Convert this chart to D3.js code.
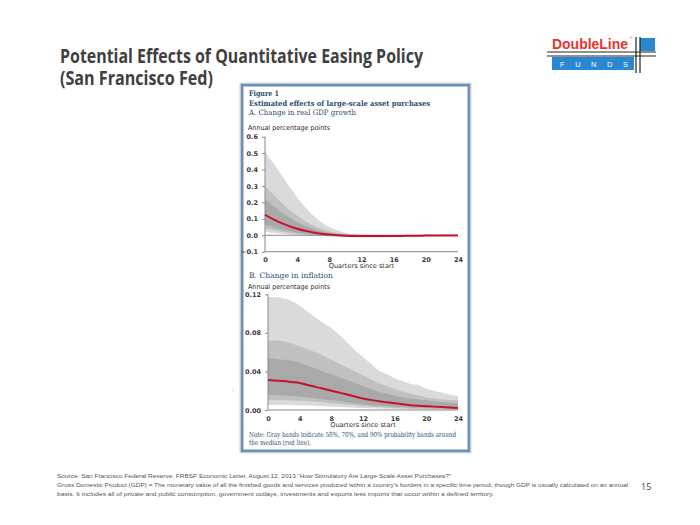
<!DOCTYPE html>
<html>
<head>
<meta charset="utf-8">
<script src="https://cdn.jsdelivr.net/npm/d3@7"></script>
<style>
  html, body { margin: 0; padding: 0; background: #ffffff; }
  svg { display: block; }
</style>
</head>
<body>
<svg id="chart" width="700" height="525"></svg>
<script>
// ---------------- DATA ----------------
const quarters = [0,1,2,3,4,5,6,7,8,9,10,11,12,13,14,15,16,17,18,19,20,21,22,23,24];
const xTickLabels = [0, 4, 8, 12, 16, 20, 24];
const gdpTicks = [-0.1, 0.0, 0.1, 0.2, 0.3, 0.4, 0.5, 0.6];
const infTicks = [0.00, 0.04, 0.08, 0.12];

// Panel A: change in real GDP growth
const gdpMedian = [0.125,0.098,0.075,0.056,0.040,0.027,0.017,0.009,0.004,0.000,-0.003,-0.004,-0.005,-0.005,-0.005,-0.005,-0.004,-0.004,-0.003,-0.003,-0.002,-0.002,-0.001,-0.001,-0.001];
const gdpHi90 = [0.51,0.44,0.37,0.30,0.23,0.17,0.12,0.08,0.05,0.03,0.015,0.008,0.004,0.002,0.001,0.001,0.001,0.001,0.001,0.001,0.001,0.000,0.000,0.000,0.000];
const gdpHi70 = [0.30,0.25,0.20,0.155,0.12,0.085,0.06,0.04,0.025,0.015,0.008,0.004,0.002,0.001,0.000,0.000,0.000,0.000,0.000,0.000,0.000,0.000,0.000,0.000,0.000];
const gdpHi50 = [0.22,0.18,0.14,0.11,0.08,0.058,0.04,0.025,0.014,0.007,0.002,0.000,-0.001,-0.002,-0.002,-0.002,-0.002,-0.002,-0.001,-0.001,-0.001,-0.001,0.000,0.000,0.000];
const gdpLo50 = [0.065,0.048,0.035,0.024,0.015,0.009,0.004,0.001,-0.002,-0.004,-0.006,-0.007,-0.008,-0.008,-0.008,-0.007,-0.007,-0.006,-0.005,-0.004,-0.004,-0.003,-0.002,-0.002,-0.002];
const gdpLo70 = [0.040,0.030,0.021,0.014,0.008,0.004,0.001,-0.002,-0.004,-0.006,-0.008,-0.009,-0.010,-0.010,-0.010,-0.009,-0.009,-0.008,-0.007,-0.006,-0.005,-0.004,-0.003,-0.003,-0.003];
const gdpLo90 = [0.022,0.015,0.009,0.004,0.001,-0.002,-0.004,-0.006,-0.008,-0.010,-0.012,-0.013,-0.014,-0.014,-0.014,-0.013,-0.012,-0.011,-0.010,-0.009,-0.008,-0.007,-0.006,-0.005,-0.005];

// Panel B: change in inflation
const infMedian = [0.031,0.0305,0.030,0.029,0.028,0.026,0.024,0.022,0.020,0.018,0.016,0.014,0.012,0.0105,0.009,0.008,0.007,0.006,0.005,0.0045,0.004,0.0035,0.003,0.0025,0.002];
const infHi90 = [0.117,0.117,0.116,0.113,0.108,0.102,0.096,0.090,0.085,0.078,0.070,0.062,0.055,0.048,0.041,0.037,0.033,0.030,0.027,0.026,0.022,0.020,0.018,0.016,0.0145];
const infHi70 = [0.072,0.072,0.071,0.069,0.066,0.063,0.060,0.056,0.052,0.048,0.044,0.040,0.036,0.032,0.028,0.025,0.022,0.019,0.017,0.015,0.013,0.012,0.011,0.0105,0.010];
const infHi50 = [0.0536,0.053,0.052,0.051,0.049,0.046,0.043,0.040,0.037,0.034,0.031,0.028,0.025,0.022,0.019,0.017,0.015,0.013,0.012,0.011,0.010,0.009,0.008,0.0075,0.007];
const infLo50 = [0.0156,0.0155,0.015,0.0145,0.014,0.013,0.012,0.011,0.010,0.009,0.008,0.007,0.006,0.005,0.0045,0.004,0.0035,0.003,0.0025,0.002,0.002,0.0015,0.0015,0.001,0.001];
const infLo70 = [0.0104,0.0103,0.010,0.0098,0.0095,0.009,0.0085,0.0078,0.007,0.0062,0.0055,0.0048,0.004,0.0035,0.003,0.0025,0.002,0.0017,0.0014,0.0012,0.001,0.0008,0.0007,0.0006,0.0005];
const infLo90 = [0.0052,0.0052,0.0051,0.005,0.0049,0.0046,0.0043,0.004,0.0036,0.0032,0.0028,0.0024,0.002,0.0017,0.0014,0.0012,0.001,0.0008,0.0007,0.0006,0.0005,0.0004,0.0003,0.0002,0.0002];

const bandColors = { b90: "#dadada", b70: "#c0c0c0", b50: "#a9a9a9" };

// ---------------- DRAW ----------------
const svg = d3.select("#chart");
svg.append("rect").attr("width", 700).attr("height", 525).attr("fill", "#ffffff");

// Title
const titleFont = "'Open Sans', 'Liberation Sans', sans-serif";
svg.append("text").attr("x", 60).attr("y", 63).attr("font-family", titleFont)
  .attr("font-weight", "bold").attr("font-size", 19).attr("fill", "#404040")
  .attr("textLength", 363).attr("lengthAdjust", "spacingAndGlyphs")
  .text("Potential Effects of Quantitative Easing Policy");
svg.append("text").attr("x", 60).attr("y", 85).attr("font-family", titleFont)
  .attr("font-weight", "bold").attr("font-size", 19).attr("fill", "#404040")
  .attr("textLength", 153).attr("lengthAdjust", "spacingAndGlyphs")
  .text("(San Francisco Fed)");

// Logo
const logo = svg.append("g");
logo.append("text").attr("x", 552).attr("y", 48.5).attr("font-family", "'Liberation Sans', Arial, sans-serif")
  .attr("font-weight", "bold").attr("font-size", 15).attr("fill", "#e8342c")
  .attr("textLength", 76).attr("lengthAdjust", "spacingAndGlyphs").text("DoubleLine");
logo.append("text").attr("x", 629.5).attr("y", 39).attr("font-family", "'Liberation Sans', Arial, sans-serif")
  .attr("font-size", 3.5).attr("fill", "#e8342c").text("®");
logo.append("rect").attr("x", 640).attr("y", 38).attr("width", 15).attr("height", 13).attr("fill", "#2a88d2");
logo.append("rect").attr("x", 552).attr("y", 57).attr("width", 82).attr("height", 13).attr("fill", "#2a88d2");
logo.append("line").attr("x1", 547).attr("x2", 656).attr("y1", 52).attr("y2", 52).attr("stroke", "#222").attr("stroke-width", 1.2);
logo.append("line").attr("x1", 547).attr("x2", 656).attr("y1", 56).attr("y2", 56).attr("stroke", "#222").attr("stroke-width", 1.2);
logo.append("line").attr("x1", 636).attr("x2", 636).attr("y1", 37).attr("y2", 73).attr("stroke", "#222").attr("stroke-width", 1.2);
logo.append("line").attr("x1", 640).attr("x2", 640).attr("y1", 37).attr("y2", 73).attr("stroke", "#222").attr("stroke-width", 1.2);
logo.append("text").attr("x", 560).attr("y", 66.5).attr("font-family", "'Liberation Sans', Arial, sans-serif")
  .attr("font-size", 7.5).attr("fill", "#ffffff")
  .attr("textLength", 68).attr("lengthAdjust", "spacing").text("FUNDS");

// Figure frame
svg.append("rect").attr("x", 242).attr("y", 85).attr("width", 227).attr("height", 366)
  .attr("fill", "#ffffff").attr("stroke", "#6e8fad").attr("stroke-width", 3);
svg.append("rect").attr("x", 240).attr("y", 83).attr("width", 231).attr("height", 370)
  .attr("fill", "none").attr("stroke", "#c9d6e2").attr("stroke-width", 1);

const serif = "Georgia, 'DejaVu Serif', 'Liberation Serif', serif";
const navy = "#2b4c6f";
svg.append("text").attr("x", 249).attr("y", 96).attr("font-family", serif).attr("font-weight", "bold")
  .attr("font-size", 7.5).attr("fill", navy).attr("textLength", 30).attr("lengthAdjust", "spacingAndGlyphs").text("Figure 1");
svg.append("text").attr("x", 249).attr("y", 105.5).attr("font-family", serif).attr("font-weight", "bold")
  .attr("font-size", 7.5).attr("fill", navy).attr("textLength", 181).attr("lengthAdjust", "spacingAndGlyphs")
  .text("Estimated effects of large-scale asset purchases");
svg.append("text").attr("x", 249).attr("y", 115).attr("font-family", serif)
  .attr("font-size", 7.5).attr("fill", navy).attr("textLength", 107).attr("lengthAdjust", "spacingAndGlyphs")
  .text("A.   Change in real GDP growth");
svg.append("text").attr("x", 249).attr("y", 277.5).attr("font-family", serif)
  .attr("font-size", 7.5).attr("fill", navy).attr("textLength", 84).attr("lengthAdjust", "spacingAndGlyphs")
  .text("B.   Change in inflation");
svg.append("text").attr("x", 249).attr("y", 437).attr("font-family", serif)
  .attr("font-size", 7).attr("fill", navy).attr("textLength", 207).attr("lengthAdjust", "spacingAndGlyphs")
  .text("Note: Gray bands indicate 50%, 70%, and 90% probability bands around");
svg.append("text").attr("x", 249).attr("y", 444.5).attr("font-family", serif)
  .attr("font-size", 7).attr("fill", navy).attr("textLength", 62).attr("lengthAdjust", "spacingAndGlyphs")
  .text("the median (red line).");

const sans = "'DejaVu Sans', Verdana, sans-serif";

function panel(cfg) {
  const g = svg.append("g");
  const x = d3.scaleLinear().domain([0, 24]).range([cfg.x0, cfg.x1]);
  const y = d3.scaleLinear().domain(cfg.yDomain).range([cfg.yBottom, cfg.yTop]);

  const area = (lo, hi) => d3.area()
    .x((d, i) => x(quarters[i]))
    .y0((d, i) => y(lo[i]))
    .y1((d, i) => y(hi[i]))
    .curve(d3.curveMonotoneX)(quarters);

  g.append("path").attr("d", area(cfg.lo90, cfg.hi90)).attr("fill", bandColors.b90);
  g.append("path").attr("d", area(cfg.lo70, cfg.hi70)).attr("fill", bandColors.b70);
  g.append("path").attr("d", area(cfg.lo50, cfg.hi50)).attr("fill", bandColors.b50);

  // y axis
  const yAxis = d3.axisLeft(y).tickValues(cfg.yTicks).tickSize(3).tickPadding(4)
    .tickFormat(cfg.fmt);
  const ya = g.append("g").attr("transform", `translate(${cfg.x0},0)`).call(yAxis);
  ya.select(".domain").attr("stroke", "#8a8a8a").attr("stroke-width", 1)
    .attr("d", `M0,${cfg.yBottom}V${cfg.yTop}`);
  ya.selectAll(".tick line").attr("stroke", "#8a8a8a");
  ya.selectAll(".tick text").attr("font-family", sans).attr("font-size", 6.5)
    .attr("font-weight", "bold").attr("fill", "#3a3a3a");

  // zero line / baseline
  cfg.hLines.forEach(v => {
    g.append("line").attr("x1", cfg.x0).attr("x2", cfg.x1).attr("y1", y(v)).attr("y2", y(v))
      .attr("stroke", "#8a8a8a").attr("stroke-width", 1);
  });

  // x axis labels
  const xAxis = d3.axisBottom(x).tickValues(xTickLabels).tickSize(0).tickPadding(0)
    .tickFormat(d3.format("d"));
  const xa = g.append("g").attr("transform", `translate(0,${cfg.xLabelY})`).call(xAxis);
  xa.select(".domain").remove();
  xa.selectAll(".tick text").attr("font-family", sans).attr("font-size", 6.5)
    .attr("font-weight", "bold").attr("fill", "#3a3a3a").attr("dy", 0).attr("y", 0);

  g.append("text").attr("x", (cfg.x0 + cfg.x1) / 2).attr("y", cfg.xLabelY + 6)
    .attr("text-anchor", "middle").attr("font-family", sans).attr("font-size", 6.6)
    .attr("fill", "#2a2a2a").text("Quarters since start");

  g.append("text").attr("x", 248).attr("y", cfg.unitY).attr("font-family", sans)
    .attr("font-size", 6.8).attr("fill", "#2a2a2a")
    .attr("textLength", 82).attr("lengthAdjust", "spacingAndGlyphs").text("Annual percentage points");

  // median
  const line = d3.line().x((d, i) => x(quarters[i])).y((d, i) => y(cfg.median[i])).curve(d3.curveMonotoneX);
  g.append("path").attr("d", line(quarters)).attr("fill", "none")
    .attr("stroke", "#c8102e").attr("stroke-width", 2);
}

panel({
  x0: 265, x1: 458, yTop: 136.7, yBottom: 251.7, yDomain: [-0.1, 0.6],
  yTicks: gdpTicks, fmt: d3.format(".1f"), hLines: [0, -0.1],
  xLabelY: 261.5, unitY: 130,
  median: gdpMedian, hi90: gdpHi90, hi70: gdpHi70, hi50: gdpHi50,
  lo50: gdpLo50, lo70: gdpLo70, lo90: gdpLo90
});

panel({
  x0: 268, x1: 458, yTop: 294.3, yBottom: 410, yDomain: [0, 0.12],
  yTicks: infTicks, fmt: d3.format(".2f"), hLines: [0],
  xLabelY: 421, unitY: 289,
  median: infMedian, hi90: infHi90, hi70: infHi70, hi50: infHi50,
  lo50: infLo50, lo70: infLo70, lo90: infLo90
});

// stray mark
svg.append("text").attr("x", 232).attr("y", 392).attr("font-family", sans).attr("font-size", 6)
  .attr("fill", "#999").text(":");

// Footer
const foot = "'Liberation Sans', Arial, sans-serif";
const footColor = "#555555";
svg.append("text").attr("x", 57).attr("y", 478).attr("font-family", foot).attr("font-size", 6)
  .attr("fill", footColor).attr("textLength", 394).attr("lengthAdjust", "spacingAndGlyphs")
  .text("Source: San Francisco Federal Reserve, FRBSF Economic Letter, August 12, 2013 \u201cHow Stimulatory Are Large-Scale Asset Purchases?\u201d");
svg.append("text").attr("x", 57).attr("y", 487).attr("font-family", foot).attr("font-size", 6)
  .attr("fill", footColor).attr("textLength", 571).attr("lengthAdjust", "spacingAndGlyphs")
  .text("Gross Domestic Product  (GDP) = The monetary value of all the finished goods and services produced within a country\u2019s borders in a specific time period, though GDP is usually calculated on an annual");
svg.append("text").attr("x", 57).attr("y", 496).attr("font-family", foot).attr("font-size", 6)
  .attr("fill", footColor).attr("textLength", 437).attr("lengthAdjust", "spacingAndGlyphs")
  .text("basis. It includes all of private and public consumption, government outlays, investments and exports less imports that occur within a defined territory.");
svg.append("text").attr("x", 641).attr("y", 490).attr("font-family", "'Open Sans', sans-serif").attr("font-size", 9)
  .attr("fill", "#404040").text("15");
</script>
</body>
</html>
